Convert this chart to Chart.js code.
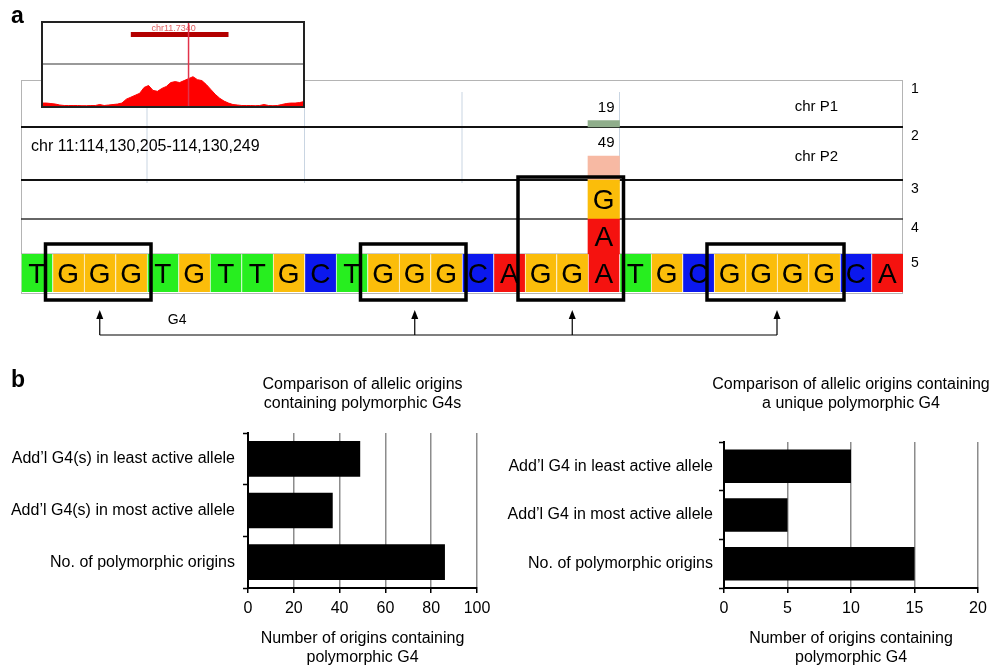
<!DOCTYPE html>
<html>
<head>
<meta charset="utf-8">
<script src="https://cdn.jsdelivr.net/npm/chart.js@4.4.1/dist/chart.umd.min.js"></script>
<style>
  html, body { margin: 0; padding: 0; background: #fff; }
  #page { position: relative; width: 993px; height: 669px; overflow: hidden; }
  canvas { position: absolute; }
</style>
</head>
<body>
<div id="page">
  <canvas id="browser" width="993" height="365" style="left:0;top:0"></canvas>
  <canvas id="inset" width="264" height="87" style="left:41px;top:21px"></canvas>
  <canvas id="leftChart" width="490" height="304" style="left:0;top:365px"></canvas>
  <canvas id="rightChart" width="503" height="304" style="left:490px;top:365px"></canvas>
</div>
<script>
// panel a: sequence + reads
const bases = ['T','G','G','G','T','G','T','T','G','C','T','G','G','G','C','A','G','G','A','T','G','C','G','G','G','G','C','A'];
const altIndex = 18;
const altRow3 = 'G';
const altRow4 = 'A';
const readCounts = [19, 49];           // chr P1, chr P2
const trackNames = ['chr P1', 'chr P2'];
const trackNumbers = ['1', '2', '3', '4', '5'];
const g4Tracts = [[1, 3], [11, 13], [16, 18], [22, 25]];
const regionLabel = 'chr 11:114,130,205-114,130,249';

// inset coverage profile
const insetCoverage = [3, 3, 2.5, 2, 1, 0.5, 0.5, 0.5, 0.5, 0.3, 0.3, 0.5, 0.5, 1.5, 0.5, 1, 1.5, 2, 3, 7,
  9, 11, 13, 19, 21, 16, 15, 18, 20, 24, 25, 24, 26, 28, 30, 27, 26, 22, 17, 12,
  8, 5, 3, 1.5, 1, 0.5, 0.5, 0.5, 0.3, 0.5, 1.5, 0.5, 0.3, 0.5, 1.5, 2.5, 3, 3, 3.5, 4.5];
const insetGeneSpan = [20, 42];
const insetMarkBin = 33;
const insetLabel = 'chr11.7340';

// panel b
const leftCategories = ['Add\u2019l G4(s) in least active allele', 'Add\u2019l G4(s) in most active allele', 'No. of polymorphic origins'];
const leftValues = [49, 37, 86];
const leftTicks = [0, 20, 40, 60, 80, 100];
const rightCategories = ['Add\u2019l G4 in least active allele', 'Add\u2019l G4 in most active allele', 'No. of polymorphic origins'];
const rightValues = [10, 5, 15];
const rightTicks = [0, 5, 10, 15, 20];
const xTitle = ['Number of origins containing', 'polymorphic G4'];

Chart.defaults.font.family = "'Liberation Sans', Arial, sans-serif";
Chart.defaults.color = '#000';

// track layout, bottom-up, in y units
const TRACK = { seq: [0, 38], alt4: [38, 73], alt3: [73, 112], p2: [112, 165], p1: [165, 212] };
const covScale = [0.34, 0.49];
const seqColors = { A: '#f5120f', C: '#0b18ee', G: '#fbbd0a', T: '#27ee1f' };

const atAlt = (v) => bases.map((_, i) => i === altIndex ? v : null);

const browserDecor = {
  id: 'browserDecor',
  beforeDatasetsDraw(chart) {
    const { ctx, chartArea: a, scales: { x, y } } = chart;
    const half = (x.getPixelForValue(1) - x.getPixelForValue(0)) / 2;
    ctx.save();
    // frame
    ctx.strokeStyle = '#b4b4b4';
    ctx.lineWidth = 1;
    ctx.strokeRect(a.left + 0.5, a.top + 0.5, a.width - 1, a.height + 1);
    // guides every 5 bases
    ctx.strokeStyle = '#c9d5e2';
    [4, 9, 14, 19].forEach(i => {
      const gx = x.getPixelForValue(i) - half;
      ctx.beginPath();
      ctx.moveTo(gx, y.getPixelForValue(TRACK.p1[1]) + 12);
      ctx.lineTo(gx, y.getPixelForValue(TRACK.alt3[1]) + 3);
      ctx.stroke();
    });
    // track separators
    const sep = (v, w, c) => {
      ctx.strokeStyle = c; ctx.lineWidth = w;
      ctx.beginPath();
      ctx.moveTo(a.left, y.getPixelForValue(v));
      ctx.lineTo(a.right, y.getPixelForValue(v));
      ctx.stroke();
    };
    sep(TRACK.p1[0], 2.2, '#111');
    sep(TRACK.p2[0], 2.2, '#111');
    sep(TRACK.alt3[0], 1.5, '#333');
    sep(TRACK.alt4[0], 1, '#999');

    // labels
    ctx.fillStyle = '#000';
    ctx.textBaseline = 'middle';
    ctx.font = "14px 'Liberation Sans', Arial, sans-serif";
    ctx.textAlign = 'left';
    const tops = [TRACK.p1[1], TRACK.p2[1], TRACK.alt3[1], TRACK.alt4[1], TRACK.seq[1]];
    trackNumbers.forEach((t, i) => ctx.fillText(t, a.right + 8, y.getPixelForValue(tops[i]) + 9));
    ctx.font = "15px 'Liberation Sans', Arial, sans-serif";
    [TRACK.p1, TRACK.p2].forEach((tr, i) => {
      const top = y.getPixelForValue(tr[1]), bot = y.getPixelForValue(tr[0]);
      ctx.fillText(trackNames[i], x.getPixelForValue(24) + 2, top + 0.57 * (bot - top));
    });
    ctx.font = "16px 'Liberation Sans', Arial, sans-serif";
    ctx.fillText(regionLabel, a.left + 10, y.getPixelForValue(TRACK.p2[1]) + 20);
    // panel letter
    ctx.font = "bold 23px 'Liberation Sans', Arial, sans-serif";
    ctx.textBaseline = 'alphabetic';
    ctx.fillText('a', 11, 23);
    ctx.restore();
  },
  afterDatasetsDraw(chart) {
    const { ctx, scales: { x, y } } = chart;
    const half = (x.getPixelForValue(1) - x.getPixelForValue(0)) / 2;
    ctx.save();
    // letters and counts
    chart.data.datasets.forEach((ds, di) => {
      const meta = chart.getDatasetMeta(di);
      meta.data.forEach((el, j) => {
        if (ds.data[j] == null) return;
        if (ds.letters && ds.letters[j]) {
          ctx.fillStyle = '#000';
          ctx.font = "28px 'Liberation Sans', Arial, sans-serif";
          ctx.textAlign = 'center';
          ctx.textBaseline = 'middle';
          ctx.fillText(ds.letters[j], el.x, (el.y + el.base) / 2 + 2);
        }
        if (ds.count != null) {
          ctx.fillStyle = '#000';
          ctx.font = "15px 'Liberation Sans', Arial, sans-serif";
          ctx.textAlign = 'right';
          ctx.textBaseline = 'middle';
          ctx.fillText(String(ds.count), el.x + half - 5, el.y - 13);
        }
      });
    });
    // G-tract boxes
    const seqBottom = y.getPixelForValue(TRACK.seq[0]);
    ctx.strokeStyle = '#000';
    ctx.lineWidth = 3.5;
    g4Tracts.forEach(([s, e]) => {
      const l = x.getPixelForValue(s) - half - 7;
      const r = x.getPixelForValue(e) + half + 4;
      const t = (s <= altIndex && altIndex <= e) ? y.getPixelForValue(TRACK.alt3[1]) - 3 : y.getPixelForValue(TRACK.seq[1]) - 10;
      ctx.strokeRect(l, t, r - l, seqBottom + 8 - t);
    });
    // arrows to G4
    const tipY = seqBottom + 18, baseY = seqBottom + 43;
    const cxs = g4Tracts.map(([s, e]) => (x.getPixelForValue(s) + x.getPixelForValue(e)) / 2);
    ctx.lineWidth = 1.2;
    ctx.fillStyle = '#000';
    cxs.forEach(cx => {
      ctx.beginPath(); ctx.moveTo(cx, baseY); ctx.lineTo(cx, tipY + 6); ctx.stroke();
      ctx.beginPath(); ctx.moveTo(cx, tipY); ctx.lineTo(cx - 3.5, tipY + 9); ctx.lineTo(cx + 3.5, tipY + 9); ctx.closePath(); ctx.fill();
    });
    ctx.beginPath(); ctx.moveTo(cxs[0], baseY); ctx.lineTo(cxs[cxs.length - 1], baseY); ctx.stroke();
    ctx.font = "14px 'Liberation Sans', Arial, sans-serif";
    ctx.textAlign = 'left';
    ctx.textBaseline = 'middle';
    ctx.fillText('G4', cxs[0] + 68, tipY + 10);
    ctx.restore();
  }
};

new Chart(document.getElementById('browser'), {
  type: 'bar',
  data: {
    labels: bases.map((b, i) => i + 1),
    datasets: [
      { label: 'reference', data: bases.map(() => TRACK.seq), backgroundColor: bases.map(b => seqColors[b]),
        letters: bases, borderColor: 'rgba(255,255,255,0.55)', borderWidth: { left: 1, right: 0, top: 0, bottom: 0 }, borderSkipped: false },
      { label: 'read 4', data: atAlt(TRACK.alt4), backgroundColor: seqColors[altRow4], letters: atAlt(altRow4) },
      { label: 'read 3', data: atAlt(TRACK.alt3), backgroundColor: seqColors[altRow3], letters: atAlt(altRow3) },
      { label: 'chr P2', data: atAlt([TRACK.p2[0], TRACK.p2[0] + readCounts[1] * covScale[1]]), backgroundColor: '#f7b9a3', count: readCounts[1] },
      { label: 'chr P1', data: atAlt([TRACK.p1[0], TRACK.p1[0] + readCounts[0] * covScale[0]]), backgroundColor: '#8fae8b', count: readCounts[0] }
    ].map(d => Object.assign({ grouped: false, barPercentage: 1, categoryPercentage: 1 }, d))
  },
  options: {
    responsive: false, animation: false, devicePixelRatio: 1,
    layout: { padding: { left: 21, right: 90, top: 80, bottom: 73 } },
    plugins: { legend: { display: false }, tooltip: { enabled: false } },
    scales: {
      x: { display: false },
      y: { display: false, min: TRACK.seq[0], max: TRACK.p1[1] }
    }
  },
  plugins: [browserDecor]
});

const insetDecor = {
  id: 'insetDecor',
  beforeDraw(chart) {
    const { ctx, width, height } = chart;
    ctx.save(); ctx.fillStyle = '#fff'; ctx.fillRect(0, 0, width, height); ctx.restore();
  },
  afterDatasetsDraw(chart) {
    const { ctx, width, height, chartArea: a, scales: { x } } = chart;
    ctx.save();
    ctx.strokeStyle = '#777'; ctx.lineWidth = 1.5;
    ctx.beginPath(); ctx.moveTo(0, a.top - 1); ctx.lineTo(width, a.top - 1); ctx.stroke();
    const gl = x.getPixelForValue(insetGeneSpan[0]), gr = x.getPixelForValue(insetGeneSpan[1]);
    ctx.fillStyle = '#b30000';
    ctx.fillRect(gl, 11, gr - gl, 5);
    ctx.fillStyle = '#e06060';
    ctx.font = "9px 'Liberation Sans', Arial, sans-serif";
    ctx.textAlign = 'center'; ctx.textBaseline = 'middle';
    ctx.fillText(insetLabel, (gl + gr) / 2 - 6, 8);
    ctx.strokeStyle = '#e2334a'; ctx.lineWidth = 1.5;
    const mx = x.getPixelForValue(insetMarkBin);
    ctx.beginPath(); ctx.moveTo(mx, 0); ctx.lineTo(mx, height); ctx.stroke();
    ctx.strokeStyle = '#222'; ctx.lineWidth = 2;
    ctx.strokeRect(1, 1, width - 2, height - 2);
    ctx.restore();
  }
};

new Chart(document.getElementById('inset'), {
  type: 'line',
  data: {
    labels: insetCoverage.map((_, i) => i),
    datasets: [{ data: insetCoverage, fill: 'origin', backgroundColor: '#ff0000', borderColor: '#ff0000',
      borderWidth: 1, pointRadius: 0, tension: 0 }]
  },
  options: {
    responsive: false, animation: false, devicePixelRatio: 1,
    layout: { padding: { left: 1, right: 1, top: 44, bottom: 2 } },
    plugins: { legend: { display: false }, tooltip: { enabled: false } },
    scales: { x: { display: false }, y: { display: false, min: 0, max: 42 } }
  },
  plugins: [insetDecor]
});

// title centred over the plot area, not squeezed to its width
const areaTitle = {
  id: 'areaTitle',
  afterDraw(chart, args, opts) {
    const { ctx, chartArea: a } = chart;
    ctx.save();
    ctx.fillStyle = '#000';
    ctx.font = "16px 'Liberation Sans', Arial, sans-serif";
    ctx.textAlign = 'center';
    ctx.textBaseline = 'middle';
    opts.lines.forEach((t, i) => ctx.fillText(t, (a.left + a.right) / 2, 19.6 + i * 19.2));
    if (opts.letter) {
      ctx.font = "bold 23px 'Liberation Sans', Arial, sans-serif";
      ctx.textAlign = 'left';
      ctx.textBaseline = 'alphabetic';
      ctx.fillText(opts.letter, 11, 22);
    }
    ctx.restore();
  }
};

function hbar(canvas, categories, values, ticks, title, letter, yWidth, padRight, padTop, labelPad) {
  return new Chart(canvas, {
    type: 'bar',
    data: { labels: categories, datasets: [{ data: values, backgroundColor: '#000', barPercentage: 0.69, categoryPercentage: 1 }] },
    options: {
      indexAxis: 'y', responsive: false, animation: false, devicePixelRatio: 1,
      layout: { padding: { left: 0, right: padRight, top: padTop, bottom: 0 } },
      plugins: {
        legend: { display: false }, tooltip: { enabled: false },
        areaTitle: { lines: title, letter: letter }
      },
      scales: {
        x: {
          min: ticks[0], max: ticks[ticks.length - 1],
          ticks: { stepSize: ticks[1] - ticks[0], font: { size: 16 }, color: '#000', padding: 6 },
          grid: { color: c => c.tick && c.tick.value === ticks[0] ? 'rgba(0,0,0,0)' : '#8c8c8c', lineWidth: 1.5,
            tickColor: '#000', tickLength: 5, tickWidth: 1.5 },
          border: { color: '#000', width: 2 },
          title: { display: true, text: xTitle, font: { size: 16 }, color: '#000', padding: { top: 4, bottom: 2 } },
          afterFit: s => { s.height = 81; s.paddingLeft = 0; s.paddingRight = 0; }
        },
        y: {
          ticks: { font: { size: 16 }, color: '#000', padding: labelPad },
          grid: { offset: true, drawOnChartArea: false, tickLength: 5, tickColor: '#000', tickWidth: 1.5 },
          border: { color: '#000', width: 2 },
          afterFit: s => { s.width = yWidth; }
        }
      }
    },
    plugins: [areaTitle]
  });
}

hbar(document.getElementById('leftChart'), leftCategories, leftValues, leftTicks,
  ['Comparison of allelic origins', 'containing polymorphic G4s'], 'b', 248, 13, 68, 8);
hbar(document.getElementById('rightChart'), rightCategories, rightValues, rightTicks,
  ['Comparison of allelic origins containing', 'a unique polymorphic G4'], null, 234, 15, 77, 6);
</script>
</body>
</html>
